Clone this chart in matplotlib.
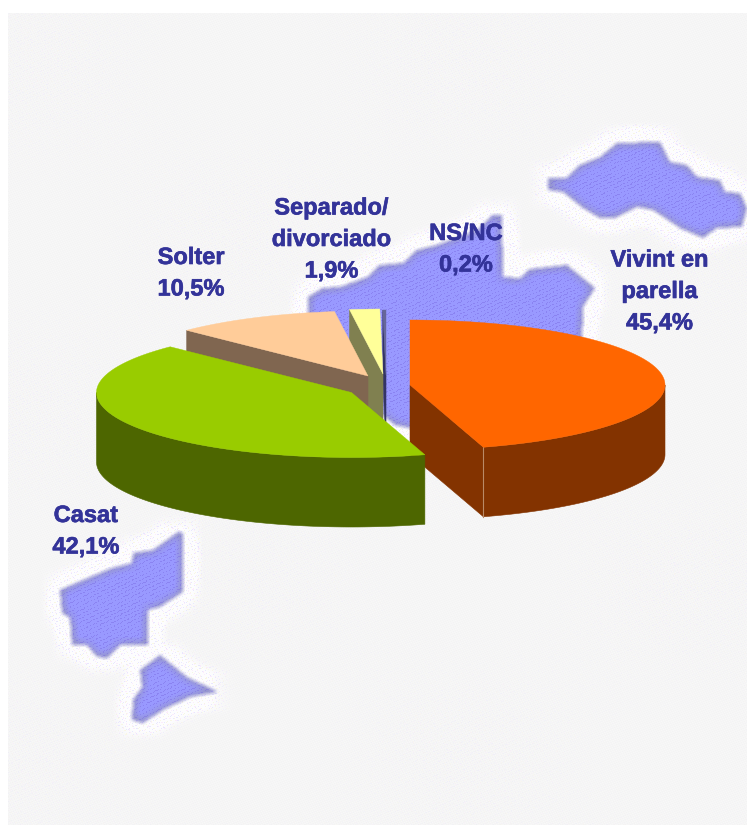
import numpy as np
import matplotlib
matplotlib.use("Agg")
import matplotlib.pyplot as plt
import matplotlib.patheffects as pe
from matplotlib.path import Path

# ---- data ----
categories = ["Vivint en\nparella", "Casat", "Solter", "Separado/\ndivorciado", "NS/NC"]
values = [45.4, 42.1, 10.5, 1.9, 0.2]

# ---- styling and layout (pixels of the 747x827 canvas) ----
W, H = 747, 827
top_colors = ["#FF6600", "#99CC00", "#FFCC99", "#FFFF99", "#666699"]
side_colors = ["#833300", "#4D6600", "#806650", "#808050", "#333366"]
text_color = "#333399"
apex_x = [410, 351.5, 368, 383, 386]
apex_y = [385, 392.5, 376, 374, 375]
radius_x, radius_y, depth = 255, 65, 69.5
draw_order = [4, 3, 2, 0, 1]
label_x = [659.5, 86, 191, 331.5, 466]
label_y = [323, 547, 289, 271, 265]   # y of the last line
line_step = 31.5

# decorative map shapes of the background
map_shapes = [
    [(548,178),(567,178),(580,165),(600,157),(617,143),(660,142),(670,162),(687,165),(697,177),
     (720,180),(725,192),(740,193),(747,208),(742,227),(717,228),(703,238),(680,228),(653,210),
     (637,207),(615,218),(600,218),(583,208),(563,192),(548,190)],
    [(308,297),(323,288),(340,287),(367,277),(380,265),(403,263),(417,250),(437,245),(477,230),
     (493,215),(502,215),(503,277),(520,278),(530,269),(567,265),(595,288),(583,307),(582,345),
     (520,400),(420,430),(395,425),(340,380),(308,330)],
    [(178,532),(183,533),(183,592),(160,607),(148,610),(148,645),(120,645),(107,658),(97,657),
     (87,645),(72,645),(70,618),(62,613),(60,590),(90,577),(112,568),(132,563),(133,553),(153,550)],
    [(160,655),(187,677),(218,692),(190,697),(163,710),(143,723),(132,720),(133,700),(142,687),(140,670)],
]


def blur(a, n):
    k = np.ones(n) / n
    a = np.apply_along_axis(lambda r: np.convolve(r, k, mode="same"), 0, a)
    return np.apply_along_axis(lambda r: np.convolve(r, k, mode="same"), 1, a)


def background():
    yy, xx = np.mgrid[0:H, 0:W]
    pts = np.column_stack([xx.ravel() + .5, yy.ravel() + .5])
    mask = np.zeros((H, W))
    for s in map_shapes:
        mask = np.maximum(mask, Path(s + [s[0]]).contains_points(pts).reshape(H, W).astype(float))
    soft = blur(mask, 5)
    core = blur(mask, 17)
    halo = blur(mask, 41)
    # deterministic fine weave
    weave = np.sin(xx * 1.9 + yy * 0.7) * np.sin(xx * 0.8 - yy * 2.1)
    grain = np.sin(xx * 2.37 + yy * 1.13) * np.sin(xx * 1.31 - yy * 2.71) + np.sin((xx + 2 * yy) * 0.77)
    grain2 = np.sin(xx * 1.73 - yy * 1.91) * np.sin(xx * 2.93 + yy * 0.59) + np.sin((2 * xx - yy) * 0.61)
    # large soft patches where the paper turns lighter and more speckled
    patch = np.clip(0.5 + 0.5 * np.sin(xx / 70 + 1.2) * np.sin(yy / 55 + 0.4), 0, 1)
    img = np.ones((H, W, 3)) * (246 + 2.5 * weave)[..., None]
    h = np.clip(halo * 7, 0, 1)[..., None]
    img = img * (1 - h) + np.array([253, 253, 254]) * h
    amount = np.clip(halo * 9 + 0.35 * patch, 0, 1)[..., None]
    for field, thr, col in ((grain, 1.15, [228, 226, 255]), (grain2, 1.2, [252, 232, 252]),
                            (grain + grain2, 2.0, [250, 250, 222])):
        d = (field > thr)[..., None] * amount * .8
        img = img * (1 - d) + np.array(col) * d
    # shape body: greyer rim, brighter inside, small purple dots
    rim = np.clip((1 - core) * 2.0, 0, 1)[..., None]
    fill = np.array([153, 153, 255]) * (1 - rim) + np.array([150, 150, 208]) * rim
    spk = (grain > 0.95)[..., None]
    fill = fill * (1 - spk * .45) + np.array([120, 105, 225]) * spk * .45
    s = soft[..., None]
    img = img * (1 - s) + fill * s
    img[:13, :] = 255
    img[825:, :] = 255
    img[:, :8] = 255
    return np.clip(img, 0, 255).astype(np.uint8)


fig = plt.figure(figsize=(W / 100, H / 100), dpi=100)
ax = fig.add_axes([0, 0, 1, 1])
ax.imshow(background(), extent=[0, W, H, 0], interpolation="nearest", zorder=0)
ax.set_xlim(0, W)
ax.set_ylim(H, 0)
ax.axis("off")


def rim_point(cx, cy, theta):
    return cx + radius_x * np.sin(theta), cy - radius_y * np.cos(theta)


total = sum(values)
edges = np.radians(np.concatenate([[0], np.cumsum(values)]) / total * 360)

z = 2
for i in draw_order:
    t1, t2 = edges[i], edges[i + 1]
    cx, cy = apex_x[i], apex_y[i]
    side, top = side_colors[i], top_colors[i]
    # radial cut faces that look towards the viewer
    for t, show in ((t1, np.sin(t1) < -1e-6), (t2, np.sin(t2) > 1e-6)):
        if show:
            px, py = rim_point(cx, cy, t)
            ax.fill([cx, px, px, cx], [cy, py, py + depth, cy + depth],
                    fc=side, ec=side, lw=0.4, zorder=z)
    # outer wall, front half only
    a, b = max(t1, np.pi / 2), min(t2, 3 * np.pi / 2)
    if b > a:
        th = np.linspace(a, b, 120)
        px, py = rim_point(cx, cy, th)
        ax.fill(np.r_[px, px[::-1]], np.r_[py, py[::-1] + depth],
                fc=side, ec=side, lw=0.4, zorder=z)
    if i == 0:  # light seam between cut face and outer wall
        px, py = rim_point(cx, cy, t2)
        ax.plot([px, px], [py, py + depth], color="#B98A66", lw=0.8, zorder=z + 0.5)
    # top face
    th = np.linspace(t1, t2, 200)
    px, py = rim_point(cx, cy, th)
    ax.fill(np.r_[cx, px], np.r_[cy, py], fc=top, ec=top, lw=0.3, zorder=z + 0.6)
    z += 1

stroke = [pe.withStroke(linewidth=0.45, foreground=text_color)]
for name, v, x, y in zip(categories, values, label_x, label_y):
    lines = name.split("\n") + [f"{v:.1f}".replace(".", ",") + "%"]
    for k, line in enumerate(lines):
        ax.text(x, y - (len(lines) - 1 - k) * line_step, line, color=text_color,
                family="Liberation Sans", weight="bold", fontsize=17,
                ha="center", va="center", zorder=20, path_effects=stroke)

fig.savefig("out.png", dpi=100)
